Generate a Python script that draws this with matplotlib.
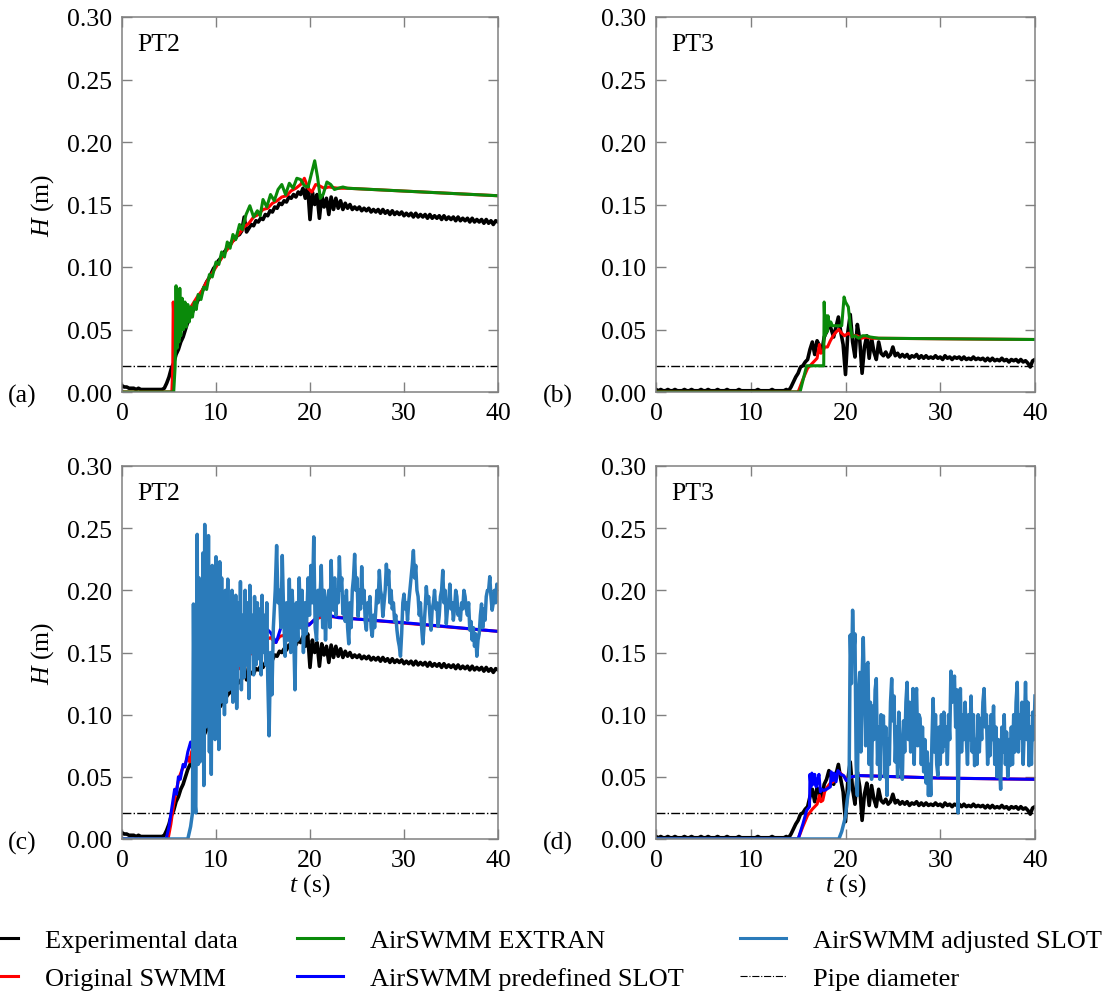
import numpy as np
import matplotlib
matplotlib.use("Agg")
import matplotlib.pyplot as plt
from matplotlib.lines import Line2D

plt.rcParams['font.family'] = ['Liberation Serif', 'DejaVu Serif']
plt.rcParams['mathtext.fontset'] = 'custom'
plt.rcParams['mathtext.it'] = 'Liberation Serif:italic'
plt.rcParams['mathtext.rm'] = 'Liberation Serif'

# ---- data ----
pipe_d = 0.021

t_exp = np.arange(0, 40.01, 0.25)
exp_pt2 = [0.005, 0.004, 0.004, 0.003, 0.003, 0.003, 0.002, 0.003, 0.002, 0.002,
           0.002, 0.002, 0.002, 0.002, 0.002, 0.002, 0.002, 0.002, 0.003, 0.007,
           0.012, 0.019, 0.023, 0.030, 0.034, 0.040, 0.044, 0.050, 0.056, 0.060,
           0.064, 0.068, 0.072, 0.076, 0.080, 0.084, 0.088, 0.091, 0.095, 0.099,
           0.101, 0.105, 0.107, 0.111, 0.113, 0.116, 0.118, 0.121, 0.122, 0.125,
           0.126, 0.129, 0.140, 0.128, 0.131, 0.134, 0.133, 0.137, 0.136, 0.139,
           0.138, 0.142, 0.141, 0.145, 0.144, 0.148, 0.147, 0.151, 0.150, 0.153,
           0.152, 0.156, 0.155, 0.158, 0.156, 0.160, 0.158, 0.163, 0.155, 0.165,
           0.138, 0.160, 0.150, 0.158, 0.139, 0.157, 0.148, 0.155, 0.142, 0.156,
           0.146, 0.155, 0.147, 0.153, 0.146, 0.151, 0.147, 0.150, 0.146, 0.148,
           0.146, 0.148, 0.145, 0.147, 0.145, 0.147, 0.144, 0.146, 0.144, 0.146,
           0.143, 0.146, 0.143, 0.145, 0.142, 0.145, 0.142, 0.144, 0.142, 0.144,
           0.141, 0.143, 0.141, 0.143, 0.140, 0.143, 0.140, 0.142, 0.140, 0.142,
           0.139, 0.142, 0.139, 0.141, 0.139, 0.141, 0.138, 0.141, 0.138, 0.140,
           0.138, 0.140, 0.137, 0.140, 0.137, 0.139, 0.137, 0.139, 0.136, 0.139,
           0.136, 0.138, 0.136, 0.138, 0.135, 0.138, 0.135, 0.137, 0.134, 0.137,
           0.136]
exp_pt3 = [0.002, 0.001, 0.002, 0.001, 0.001, 0.002, 0.001, 0.001, 0.002, 0.001,
           0.001, 0.001, 0.002, 0.001, 0.001, 0.002, 0.001, 0.001, 0.001, 0.002,
           0.001, 0.001, 0.002, 0.001, 0.001, 0.001, 0.002, 0.001, 0.001, 0.001,
           0.002, 0.001, 0.001, 0.001, 0.001, 0.002, 0.001, 0.001, 0.001, 0.001,
           0.001, 0.001, 0.001, 0.002, 0.001, 0.001, 0.001, 0.001, 0.001, 0.002,
           0.001, 0.001, 0.001, 0.001, 0.001, 0.002, 0.001, 0.004, 0.008, 0.012,
           0.015, 0.020, 0.021, 0.024, 0.026, 0.034, 0.040, 0.030, 0.041, 0.037,
           0.032, 0.044, 0.048, 0.055, 0.050, 0.044, 0.052, 0.060, 0.048, 0.038,
           0.014, 0.048, 0.062, 0.040, 0.028, 0.054, 0.042, 0.015, 0.036, 0.045,
           0.027, 0.043, 0.032, 0.026, 0.040, 0.031, 0.029, 0.032, 0.028, 0.030,
           0.036, 0.029, 0.031, 0.028, 0.030, 0.028, 0.030, 0.027, 0.029, 0.028,
           0.030, 0.027, 0.029, 0.027, 0.029, 0.027, 0.028, 0.027, 0.029, 0.027,
           0.028, 0.026, 0.029, 0.027, 0.028, 0.026, 0.028, 0.027, 0.028, 0.026,
           0.028, 0.026, 0.027, 0.026, 0.028, 0.026, 0.027, 0.026, 0.027, 0.025,
           0.027, 0.025, 0.027, 0.025, 0.026, 0.025, 0.027, 0.025, 0.026, 0.024,
           0.026, 0.025, 0.026, 0.024, 0.026, 0.024, 0.025, 0.023, 0.020, 0.025,
           0.026]

# Original SWMM
t_swmm_pt2 = [0, 5.3, 5.4, 5.45, 5.6, 6.0, 6.5, 7.0, 7.5, 8.0, 8.5, 9.0, 9.5, 10.0,
              10.5, 11.0, 11.5, 12.0, 12.5, 13.0, 13.5, 14.0, 14.5, 15.0, 15.5, 16.0,
              16.5, 17.0, 17.5, 18.0, 18.5, 19.0, 19.4, 19.8, 20.2, 20.6, 21.0, 21.5,
              22.0, 23.0, 24.0, 40.0]
swmm_pt2 = [0.0, 0.0, 0.020, 0.072, 0.045, 0.050, 0.056, 0.064, 0.070, 0.076, 0.081,
            0.088, 0.094, 0.100, 0.106, 0.112, 0.117, 0.123, 0.127, 0.132, 0.135,
            0.140, 0.142, 0.146, 0.147, 0.151, 0.153, 0.156, 0.157, 0.161, 0.163,
            0.166, 0.171, 0.163, 0.160, 0.166, 0.165, 0.163, 0.164, 0.163, 0.163,
            0.157]
t_swmm_pt2c = [0, 4.9, 5.2, 5.5, 5.8, 6.1, 6.4, 6.7, 7.0, 7.2, 7.4, 7.8, 8.3, 8.8,
               9.3, 9.8, 10.3, 10.8, 11.3, 11.8, 12.3, 12.8, 13.3, 13.8, 14.3, 14.8,
               15.3, 15.8, 16.3, 16.8, 17.3, 17.8, 18.3, 18.8, 19.3, 19.8, 20.3, 21.0,
               22.0, 40.0]
swmm_pt2c = [0.0, 0.0, 0.012, 0.028, 0.040, 0.050, 0.056, 0.060, 0.066, 0.062, 0.070,
             0.078, 0.085, 0.092, 0.100, 0.108, 0.113, 0.120, 0.126, 0.130, 0.136,
             0.140, 0.145, 0.150, 0.153, 0.157, 0.160, 0.162, 0.158, 0.163, 0.164,
             0.166, 0.168, 0.171, 0.169, 0.172, 0.175, 0.178, 0.179, 0.167]
t_swmm_pt3 = [0, 15.0, 15.5, 16.0, 16.5, 17.0, 17.25, 17.4, 17.6, 17.8, 18.1, 18.4,
              18.7, 19.0, 19.3, 19.6, 19.9, 20.3, 20.7, 21.2, 21.7, 22.2, 22.7, 23.2,
              40.0]
swmm_pt3 = [0.0, 0.0, 0.010, 0.019, 0.023, 0.027, 0.038, 0.031, 0.032, 0.036, 0.036,
            0.041, 0.045, 0.048, 0.050, 0.047, 0.045, 0.047, 0.045, 0.045, 0.043,
            0.044, 0.043, 0.043, 0.042]
t_swmm_pt3d = [0, 15.0, 15.5, 16.0, 16.5, 17.0, 17.25, 17.4, 17.6, 17.8, 18.1, 18.4,
               18.7, 19.0, 19.3, 19.6, 19.9, 20.1, 20.6, 21.5, 30.0, 40.0]
swmm_pt3d = [0.0, 0.0, 0.010, 0.019, 0.024, 0.028, 0.035, 0.030, 0.031, 0.038, 0.042,
             0.045, 0.046, 0.050, 0.054, 0.052, 0.050, 0.047, 0.050, 0.051, 0.049,
             0.048]

# AirSWMM EXTRAN
t_extran_pt2 = [0, 5.5, 5.65, 5.75, 5.85, 5.95, 6.05, 6.15, 6.25, 6.4, 6.55, 6.7, 6.85,
                7.0, 7.15, 7.3, 7.5, 7.7, 7.9, 8.1, 8.4, 8.7, 9.0, 9.3, 9.6, 10.0, 10.3,
                10.6, 10.9, 11.2, 11.5, 11.8, 12.1, 12.5, 12.8, 13.2, 13.6, 14.0, 14.4,
                14.7, 15.0, 15.4, 15.8, 16.2, 16.6, 17.0, 17.4, 17.8, 18.2, 18.6, 19.0,
                19.4, 19.8, 20.2, 20.5, 20.8, 21.1, 21.4, 21.8, 22.2, 22.6, 23.0, 23.5,
                24.0, 40.0]
extran_pt2 = [0.0, 0.0, 0.020, 0.085, 0.035, 0.080, 0.040, 0.083, 0.045, 0.075, 0.050,
              0.072, 0.052, 0.070, 0.056, 0.068, 0.060, 0.072, 0.066, 0.078, 0.074,
              0.084, 0.082, 0.094, 0.092, 0.104, 0.102, 0.112, 0.108, 0.120, 0.115,
              0.126, 0.122, 0.134, 0.130, 0.142, 0.149, 0.140, 0.145, 0.141, 0.154,
              0.148, 0.158, 0.153, 0.162, 0.166, 0.158, 0.167, 0.163, 0.171, 0.170,
              0.165, 0.164, 0.176, 0.185, 0.172, 0.155, 0.158, 0.168, 0.166, 0.162,
              0.163, 0.164, 0.163, 0.157]
t_extran_pt3 = [0, 15.2, 15.9, 17.7, 17.75, 17.85, 17.95, 18.05, 18.15, 18.3, 18.45,
                18.6, 19.6, 19.85, 20.0, 20.3, 20.5, 20.7, 21.0, 21.4, 21.8, 22.2, 22.6,
                23.5, 40.0]
extran_pt3 = [0.0, 0.0, 0.021, 0.021, 0.072, 0.045, 0.061, 0.048, 0.061, 0.053, 0.056,
              0.053, 0.053, 0.076, 0.072, 0.068, 0.053, 0.044, 0.045, 0.043, 0.045,
              0.045, 0.044, 0.043, 0.042]

# AirSWMM predefined SLOT
t_pre_pt2 = [0, 4.7, 5.0, 5.3, 5.6, 5.8, 6.0, 6.2, 6.5, 6.7, 7.0, 7.3, 7.5, 8.0, 8.5,
             9.0, 9.5, 10.0, 10.5, 11.0, 11.5, 12.0, 12.5, 13.0, 13.5, 14.0, 14.5, 15.0,
             15.4, 15.8, 16.4, 16.9, 17.4, 18.0, 18.6, 19.1, 19.5, 19.9, 20.4, 21.0,
             21.5, 23.0, 30.0, 40.0]
pre_pt2 = [0.0, 0.0, 0.010, 0.025, 0.040, 0.036, 0.050, 0.048, 0.060, 0.058, 0.070,
           0.078, 0.072, 0.082, 0.090, 0.098, 0.105, 0.112, 0.118, 0.125, 0.131, 0.137,
           0.141, 0.145, 0.149, 0.153, 0.158, 0.162, 0.169, 0.166, 0.158, 0.170, 0.176,
           0.176, 0.179, 0.180, 0.175, 0.172, 0.176, 0.180, 0.181, 0.178, 0.174, 0.167]
t_pre_pt3 = [0, 15.0, 15.5, 15.9, 16.2, 16.25, 16.35, 16.45, 16.6, 16.75, 16.9, 17.05,
             17.2, 17.35, 17.5, 17.7, 18.0, 18.4, 18.5, 18.65, 18.8, 19.0, 19.2, 19.5,
             19.8, 20.1, 20.6, 21.5, 30.0, 40.0]
pre_pt3 = [0.0, 0.0, 0.012, 0.023, 0.026, 0.052, 0.042, 0.053, 0.044, 0.052, 0.042,
           0.047, 0.052, 0.038, 0.040, 0.039, 0.040, 0.042, 0.054, 0.047, 0.053, 0.046,
           0.055, 0.052, 0.051, 0.047, 0.050, 0.051, 0.049, 0.048]

# AirSWMM adjusted SLOT, PT2: irregular samples up to 22 s, then every 0.125 s
t_adj_pt2_a = [0, 7.0, 7.3, 7.5, 7.6, 7.75, 7.85, 8.0, 8.1, 8.2, 8.3, 8.4, 8.5, 8.6,
               8.7, 8.8, 8.9, 9.0, 9.1, 9.2, 9.3, 9.4, 9.5, 9.6, 9.7, 9.8, 9.9, 10.0,
               10.1, 10.2, 10.3, 10.4, 10.5, 10.6, 10.7, 10.8, 10.9, 11.0, 11.1, 11.25,
               11.4, 11.5, 11.6, 11.7, 11.8, 11.9, 12.0, 12.1, 12.2, 12.35, 12.5, 12.6,
               12.7, 12.85, 13.0, 13.1, 13.2, 13.35, 13.5, 13.6, 13.7, 13.85, 14.0, 14.1,
               14.25, 14.4, 14.5, 14.65, 14.8, 14.9, 15.0, 15.15, 15.3, 15.4, 15.5,
               15.65, 15.8, 15.95, 16.1, 16.3, 16.45, 16.6, 16.75, 16.9, 17.05, 17.2,
               17.35, 17.5, 17.65, 17.8, 17.95, 18.1, 18.25, 18.4, 18.55, 18.7, 18.85,
               19.0, 19.15, 19.3, 19.45, 19.6, 19.8, 19.95, 20.1, 20.25, 20.4, 20.55,
               20.7, 20.85, 21.0, 21.2, 21.35, 21.5, 21.65, 21.8]
adj_pt2_a = [0.0, 0.0, 0.010, 0.021, 0.189, 0.030, 0.021, 0.245, 0.060, 0.210, 0.062,
             0.200, 0.080, 0.230, 0.043, 0.253, 0.090, 0.210, 0.100, 0.244, 0.070,
             0.200, 0.052, 0.220, 0.100, 0.190, 0.080, 0.227, 0.090, 0.200, 0.072,
             0.223, 0.110, 0.210, 0.120, 0.195, 0.100, 0.200, 0.110, 0.209, 0.120,
             0.190, 0.140, 0.200, 0.110, 0.185, 0.130, 0.196, 0.105, 0.190, 0.140,
             0.207, 0.120, 0.180, 0.130, 0.200, 0.140, 0.190, 0.113, 0.204, 0.150,
             0.180, 0.132, 0.195, 0.140, 0.190, 0.145, 0.185, 0.132, 0.196, 0.150,
             0.180, 0.140, 0.190, 0.130, 0.083, 0.150, 0.116, 0.170, 0.200, 0.236,
             0.190, 0.200, 0.170, 0.228, 0.180, 0.147, 0.190, 0.160, 0.209, 0.150,
             0.200, 0.170, 0.120, 0.190, 0.160, 0.210, 0.170, 0.200, 0.150, 0.190,
             0.165, 0.210, 0.180, 0.220, 0.190, 0.243, 0.170, 0.160, 0.200, 0.180,
             0.220, 0.170, 0.200, 0.160, 0.190]
t_adj_pt2_b = np.arange(22.0, 40.001, 0.125)
adj_pt2_b = [0.200, 0.170, 0.224, 0.190, 0.184, 0.210, 0.180, 0.200,   # 22
             0.190, 0.227, 0.200, 0.210, 0.181, 0.195, 0.175, 0.200,   # 23
             0.170, 0.157, 0.190, 0.170, 0.200, 0.210, 0.229, 0.200,   # 24
             0.210, 0.179, 0.200, 0.185, 0.219, 0.190, 0.200, 0.175,   # 25
             0.168, 0.190, 0.185, 0.195, 0.170, 0.163, 0.180, 0.170,   # 26
             0.184, 0.200, 0.190, 0.216, 0.200, 0.195, 0.179, 0.190,   # 27
             0.200, 0.221, 0.205, 0.216, 0.190, 0.200, 0.185, 0.190,   # 28
             0.175, 0.180, 0.168, 0.160, 0.155, 0.147, 0.165, 0.190,   # 29
             0.197, 0.185, 0.190, 0.176, 0.190, 0.200, 0.210, 0.220,   # 30
             0.232, 0.210, 0.220, 0.200, 0.195, 0.180, 0.190, 0.170,   # 31
             0.157, 0.170, 0.185, 0.203, 0.190, 0.195, 0.180, 0.168,   # 32
             0.185, 0.190, 0.200, 0.185, 0.190, 0.171, 0.180, 0.195,   # 33
             0.200, 0.216, 0.190, 0.200, 0.173, 0.185, 0.190, 0.205,   # 34
             0.185, 0.190, 0.176, 0.185, 0.200, 0.195, 0.180, 0.185,   # 35
             0.176, 0.190, 0.185, 0.200, 0.195, 0.185, 0.180, 0.190,   # 36
             0.168, 0.175, 0.160, 0.170, 0.155, 0.165, 0.147, 0.160,   # 37
             0.165, 0.180, 0.189, 0.170, 0.185, 0.176, 0.195, 0.200,   # 38
             0.200, 0.211, 0.195, 0.184, 0.190, 0.200, 0.190, 0.205,   # 39
             0.200]

# AirSWMM adjusted SLOT, PT3: zero, then every 0.125 s from 20 s
t_adj_pt3_a = [0, 19.3, 19.6, 19.8]
adj_pt3_a = [0.0, 0.0, 0.006, 0.012]
t_adj_pt3_b = np.arange(20.0, 40.001, 0.125)
adj_pt3_b = [0.018, 0.028, 0.035, 0.040, 0.164, 0.125, 0.184, 0.150,   # 20
             0.165, 0.060, 0.035, 0.120, 0.134, 0.070, 0.130, 0.162,   # 21
             0.120, 0.075, 0.140, 0.142, 0.060, 0.110, 0.048, 0.107,   # 22
             0.080, 0.120, 0.129, 0.060, 0.090, 0.048, 0.100, 0.085,   # 23
             0.099, 0.050, 0.090, 0.035, 0.080, 0.060, 0.110, 0.129,   # 24
             0.095, 0.115, 0.062, 0.090, 0.050, 0.102, 0.080, 0.060,   # 25
             0.048, 0.095, 0.070, 0.110, 0.126, 0.080, 0.110, 0.070,   # 26
             0.089, 0.121, 0.060, 0.110, 0.121, 0.075, 0.100, 0.097,   # 27
             0.060, 0.090, 0.054, 0.080, 0.045, 0.070, 0.035, 0.060,   # 28
             0.035, 0.080, 0.113, 0.070, 0.100, 0.060, 0.051, 0.090,   # 29
             0.060, 0.100, 0.070, 0.102, 0.075, 0.090, 0.060, 0.100,   # 30
             0.080, 0.135, 0.110, 0.120, 0.131, 0.090, 0.120, 0.021,   # 31
             0.080, 0.121, 0.070, 0.100, 0.080, 0.110, 0.081, 0.060,   # 32
             0.100, 0.080, 0.115, 0.070, 0.100, 0.059, 0.080, 0.060,   # 33
             0.100, 0.070, 0.097, 0.080, 0.110, 0.121, 0.090, 0.100,   # 34
             0.060, 0.090, 0.067, 0.100, 0.080, 0.107, 0.060, 0.090,   # 35
             0.050, 0.080, 0.060, 0.040, 0.090, 0.070, 0.100, 0.060,   # 36
             0.086, 0.050, 0.080, 0.059, 0.090, 0.060, 0.100, 0.070,   # 37
             0.110, 0.126, 0.070, 0.100, 0.081, 0.110, 0.060, 0.090,   # 38
             0.126, 0.080, 0.110, 0.059, 0.090, 0.060, 0.102, 0.080,   # 39
             0.115]

labels = ['Experimental data', 'Original SWMM', 'AirSWMM EXTRAN',
          'AirSWMM predefined SLOT', 'AirSWMM adjusted SLOT', 'Pipe diameter']
colors = {'exp': 'black', 'swmm': '#ff0000', 'extran': '#0a8a0a',
          'pre': '#0000ff', 'adj': '#2b7bba'}

fig = plt.figure(figsize=(11.15, 10.03), dpi=100)
W, H = 1115, 1003
boxes = [(122, 18, 498, 393), (656, 18, 1035, 393),
         (122, 467, 498, 840), (656, 467, 1035, 840)]
axes = []
for x0, y0, x1, y1 in boxes:
    ax = fig.add_axes([x0 / W, 1 - y1 / H, (x1 - x0) / W, (y1 - y0) / H])
    axes.append(ax)

fs = 18.5
lw = 2.2

def style(ax, name):
    ax.set_xlim(0, 40)
    ax.set_ylim(0, 0.30)
    ax.set_xticks([0, 10, 20, 30, 40])
    ax.set_yticks(np.arange(0, 0.301, 0.05))
    ax.yaxis.set_major_formatter(plt.FormatStrFormatter('%.2f'))
    ax.tick_params(direction='in', top=True, right=True, length=7, width=1,
                   color='#808080', labelsize=fs, pad=7)
    for s in ax.spines.values():
        s.set_color('#808080')
        s.set_linewidth(1.1)
    ax.text(0.04, 0.928, name, transform=ax.transAxes, fontsize=fs, va='center')
    ax.axhline(pipe_d, color='black', ls='-.', lw=1.0, zorder=1)

ax = axes[0]
style(ax, 'PT2')
ax.plot(t_exp, exp_pt2, color=colors['exp'], lw=2.6)
ax.plot(t_swmm_pt2, swmm_pt2, color=colors['swmm'], lw=lw)
ax.plot(t_extran_pt2, extran_pt2, color=colors['extran'], lw=lw)
ax.set_ylabel(r'$H$ (m)', fontsize=fs, labelpad=8)

ax = axes[1]
style(ax, 'PT3')
ax.plot(t_exp, exp_pt3, color=colors['exp'], lw=2.6)
ax.plot(t_swmm_pt3, swmm_pt3, color=colors['swmm'], lw=lw)
ax.plot(t_extran_pt3, extran_pt3, color=colors['extran'], lw=lw)

ax = axes[2]
style(ax, 'PT2')
ax.plot(t_exp, exp_pt2, color=colors['exp'], lw=2.6)
ax.plot(t_swmm_pt2c, swmm_pt2c, color=colors['swmm'], lw=lw)
ax.plot(t_pre_pt2, pre_pt2, color=colors['pre'], lw=lw)
ax.plot(list(t_adj_pt2_a) + list(t_adj_pt2_b), adj_pt2_a + adj_pt2_b,
        color=colors['adj'], lw=2.5)
ax.set_ylabel(r'$H$ (m)', fontsize=fs, labelpad=8)
ax.set_xlabel(r'$t$ (s)', fontsize=fs, labelpad=0)

ax = axes[3]
style(ax, 'PT3')
ax.plot(t_exp, exp_pt3, color=colors['exp'], lw=2.6)
ax.plot(t_swmm_pt3d, swmm_pt3d, color=colors['swmm'], lw=lw)
ax.plot(t_pre_pt3, pre_pt3, color=colors['pre'], lw=lw)
ax.plot(list(t_adj_pt3_a) + list(t_adj_pt3_b), adj_pt3_a + adj_pt3_b,
        color=colors['adj'], lw=2.5)
ax.set_xlabel(r'$t$ (s)', fontsize=fs, labelpad=0)

for lab, (x, y) in zip(['(a)', '(b)', '(c)', '(d)'],
                       [(8, 396), (543, 396), (8, 843), (543, 843)]):
    fig.text(x / W, 1 - y / H, lab, fontsize=fs, va='center', ha='left')

handles = [Line2D([], [], color=colors['exp'], lw=2.2),
           Line2D([], [], color=colors['swmm'], lw=2.2),
           Line2D([], [], color=colors['extran'], lw=2.2),
           Line2D([], [], color=colors['pre'], lw=2.2),
           Line2D([], [], color=colors['adj'], lw=2.2),
           Line2D([], [], color='black', ls='-.', lw=0.8)]
leg_fs = 19
for i, x in enumerate([-28, 297, 740]):
    leg = fig.legend(handles[2 * i:2 * i + 2], labels[2 * i:2 * i + 2],
                     loc='upper left', bbox_to_anchor=(x / W, 1 - 930 / H),
                     frameon=False, fontsize=leg_fs, handlelength=1.75,
                     handletextpad=1.0, labelspacing=0.54, borderpad=0,
                     borderaxespad=0)

fig.savefig('out.png', dpi=100)
